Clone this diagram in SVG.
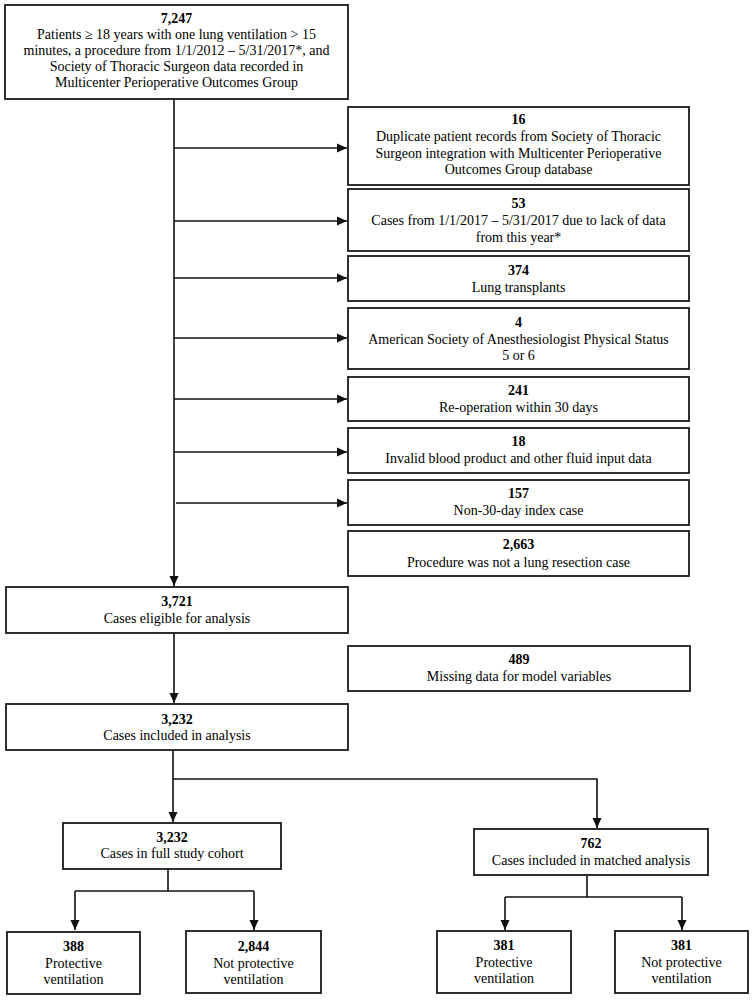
<svg xmlns="http://www.w3.org/2000/svg" width="755" height="1000" viewBox="0 0 755 1000">
<style>
.box{fill:#fff;stroke:#1a1a1a;stroke-width:1.8}
.conn{stroke:#111;stroke-width:1.6;fill:none}
text{font-family:"Liberation Serif","Times New Roman",serif;font-size:14px;fill:#000;text-anchor:middle}
.n{font-weight:bold}
</style>
<defs>
<marker id="ah" markerUnits="userSpaceOnUse" markerWidth="10" markerHeight="10" refX="10" refY="5" orient="auto">
<path d="M0,0.5 L10,5 L0,9.5 z" fill="#111"/>
</marker>
</defs>
<rect width="755" height="1000" fill="#fff"/>
<g id="connectors">
<line class="conn" x1="174" y1="99" x2="174" y2="586" marker-end="url(#ah)"/>
<line class="conn" x1="174" y1="148" x2="347" y2="148" marker-end="url(#ah)"/>
<line class="conn" x1="174" y1="221" x2="347" y2="221" marker-end="url(#ah)"/>
<line class="conn" x1="174" y1="278" x2="347" y2="278" marker-end="url(#ah)"/>
<line class="conn" x1="174" y1="338" x2="347" y2="338" marker-end="url(#ah)"/>
<line class="conn" x1="174" y1="399" x2="347" y2="399" marker-end="url(#ah)"/>
<line class="conn" x1="174" y1="452" x2="347" y2="452" marker-end="url(#ah)"/>
<line class="conn" x1="176" y1="503" x2="347" y2="503" marker-end="url(#ah)"/>
<line class="conn" x1="174" y1="633" x2="174" y2="703" marker-end="url(#ah)"/>
<line class="conn" x1="173" y1="750" x2="173" y2="822" marker-end="url(#ah)"/>
<polyline class="conn" points="173,779 597,779 597,828" marker-end="url(#ah)"/>
<line class="conn" x1="168" y1="869" x2="168" y2="891"/>
<line class="conn" x1="75" y1="891" x2="254" y2="891"/>
<line class="conn" x1="75" y1="891" x2="75" y2="930" marker-end="url(#ah)"/>
<line class="conn" x1="254" y1="891" x2="254" y2="930" marker-end="url(#ah)"/>
<line class="conn" x1="587" y1="875" x2="587" y2="897"/>
<line class="conn" x1="505" y1="897" x2="682" y2="897"/>
<line class="conn" x1="505" y1="897" x2="505" y2="930" marker-end="url(#ah)"/>
<line class="conn" x1="682" y1="897" x2="682" y2="930" marker-end="url(#ah)"/>
</g>
<g id="n7247">
<rect class="box" x="5" y="5" width="343" height="94"/>
<text class="n" x="176.5" y="23">7,247</text>
<text x="176.5" y="39">Patients ≥ 18 years with one lung ventilation &gt; 15</text>
<text x="176.5" y="55">minutes, a procedure from 1/1/2012 – 5/31/2017*, and</text>
<text x="176.5" y="71">Society of Thoracic Surgeon data recorded in</text>
<text x="176.5" y="87">Multicenter Perioperative Outcomes Group</text>
</g>
<g id="n16">
<rect class="box" x="348" y="107" width="341" height="78"/>
<text class="n" x="518.5" y="124">16</text>
<text x="518.5" y="141">Duplicate patient records from Society of Thoracic</text>
<text x="518.5" y="158">Surgeon integration with Multicenter Perioperative</text>
<text x="518.5" y="174">Outcomes Group database</text>
</g>
<g id="n53">
<rect class="box" x="348" y="189" width="341" height="62"/>
<text class="n" x="518.5" y="208">53</text>
<text x="518.5" y="225">Cases from 1/1/2017 – 5/31/2017 due to lack of data</text>
<text x="518.5" y="242">from this year*</text>
</g>
<g id="n374">
<rect class="box" x="348" y="256" width="341" height="45"/>
<text class="n" x="518.5" y="275">374</text>
<text x="518.5" y="292">Lung transplants</text>
</g>
<g id="n4">
<rect class="box" x="348" y="308" width="341" height="61"/>
<text class="n" x="518.5" y="327">4</text>
<text x="518.5" y="344">American Society of Anesthesiologist Physical Status</text>
<text x="518.5" y="360">5 or 6</text>
</g>
<g id="n241">
<rect class="box" x="348" y="377" width="341" height="44"/>
<text class="n" x="518.5" y="395">241</text>
<text x="518.5" y="412">Re-operation within 30 days</text>
</g>
<g id="n18">
<rect class="box" x="348" y="428" width="341" height="45"/>
<text class="n" x="518.5" y="446">18</text>
<text x="518.5" y="463">Invalid blood product and other fluid input data</text>
</g>
<g id="n157">
<rect class="box" x="348" y="480" width="341" height="45"/>
<text class="n" x="518.5" y="498">157</text>
<text x="518.5" y="515">Non-30-day index case</text>
</g>
<g id="n2663">
<rect class="box" x="348" y="531" width="341" height="45"/>
<text class="n" x="518.5" y="549">2,663</text>
<text x="518.5" y="567">Procedure was not a lung resection case</text>
</g>
<g id="n3721">
<rect class="box" x="6" y="587" width="342" height="46"/>
<text class="n" x="177" y="606">3,721</text>
<text x="177" y="623">Cases eligible for analysis</text>
</g>
<g id="n489">
<rect class="box" x="348" y="646" width="342" height="45"/>
<text class="n" x="519" y="664">489</text>
<text x="519" y="681">Missing data for model variables</text>
</g>
<g id="n3232">
<rect class="box" x="6" y="704" width="342" height="46"/>
<text class="n" x="177" y="724">3,232</text>
<text x="177" y="740">Cases included in analysis</text>
</g>
<g id="nfull">
<rect class="box" x="63" y="823" width="218" height="46"/>
<text class="n" x="172" y="842">3,232</text>
<text x="172" y="858">Cases in full study cohort</text>
</g>
<g id="n762">
<rect class="box" x="474" y="829" width="234" height="46"/>
<text class="n" x="591" y="848">762</text>
<text x="591" y="865">Cases included in matched analysis</text>
</g>
<g id="n388">
<rect class="box" x="7" y="932" width="133" height="62"/>
<text class="n" x="73.5" y="951">388</text>
<text x="73.5" y="968">Protective</text>
<text x="73.5" y="984">ventilation</text>
</g>
<g id="n2844">
<rect class="box" x="186" y="931" width="135" height="62"/>
<text class="n" x="253.5" y="951">2,844</text>
<text x="253.5" y="968">Not protective</text>
<text x="253.5" y="984">ventilation</text>
</g>
<g id="n381a">
<rect class="box" x="437" y="931" width="134" height="62"/>
<text class="n" x="504" y="950">381</text>
<text x="504" y="967">Protective</text>
<text x="504" y="983">ventilation</text>
</g>
<g id="n381b">
<rect class="box" x="615" y="931" width="133" height="62"/>
<text class="n" x="681.5" y="950">381</text>
<text x="681.5" y="967">Not protective</text>
<text x="681.5" y="983">ventilation</text>
</g>
</svg>
